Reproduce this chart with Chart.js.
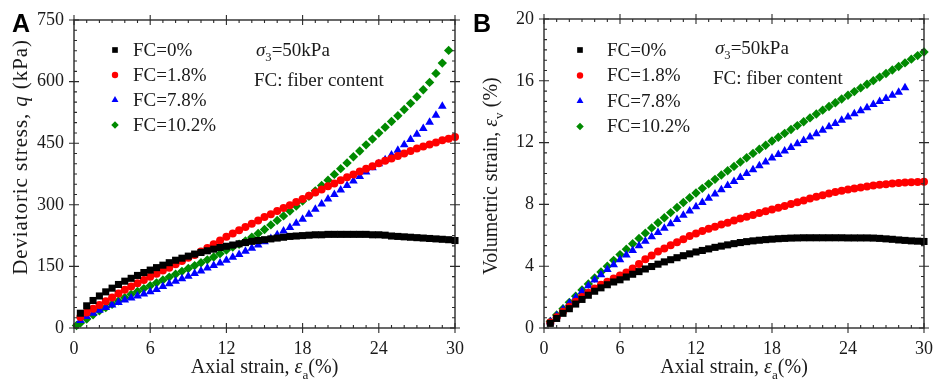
<!DOCTYPE html>
<html>
<head>
<meta charset="utf-8">
<style>
body { margin: 0; background: #fff; }
.panel { position: absolute; top: 0; width: 469px; height: 383px; }
</style>
</head>
<body>
<div class="panel" style="left:0"><canvas id="chartA" width="469" height="383"></canvas></div>
<div class="panel" style="left:469px"><canvas id="chartB" width="469" height="383"></canvas></div>

<script src="https://cdn.jsdelivr.net/npm/chart.js"></script>
<script>
// axial strain (%) at each reading
var strain = [0.5,1,1.5,2,2.5,3,3.5,4,4.5,5,5.5,6,6.5,7,7.5,8,8.5,9,9.5,10,
  10.5,11,11.5,12,12.5,13,13.5,14,14.5,15,15.5,16,16.5,17,17.5,18,18.5,19,19.5,20,
  20.5,21,21.5,22,22.5,23,23.5,24,24.5,25,25.5,26,26.5,27,27.5,28,28.5,29,29.5,30];
var strainG = [0.2,0.5,1,1.5,2,2.5,3,3.5,4,4.5,5,5.5,6,6.5,7,7.5,8,8.5,9,9.5,
  10,10.5,11,11.5,12,12.5,13,13.5,14,14.5,15,15.5,16,16.5,17,17.5,18,18.5,19,19.5,
  20,20.5,21,21.5,22,22.5,23,23.5,24,24.5,25,25.5,26,26.5,27,27.5,28,28.5,29,29.5];

var labelsFC = ["FC=0%", "FC=1.8%", "FC=7.8%", "FC=10.2%"];

// deviatoric stress q (kPa)
var qFC0 = [36,54,67,78,88,97,106,114,121,128,135,141,147,153,159,165,170,175,180,184,
  188,192,196,199,202,205,208,211,213,215,217,219,221,223,224,225,226,227,227,228,
  228,228,228,228,228,228,227,227,226,224,223,222,221,220,219,218,217,216,215,213];
var qFC18 = [27,38,47,56,65,74,84,93,101,109,117,125,132,140,147,155,163,171,178,186,
  195,204,213,222,230,238,246,254,262,270,277,285,292,299,307,314,322,330,337,345,
  352,360,367,374,381,388,394,401,407,413,419,425,431,437,442,447,452,457,461,465];
var qFC78 = [18,28,36,43,50,56,62,68,73,78,83,88,94,101,108,114,120,126,133,139,
  146,152,158,165,172,179,187,194,202,210,218,227,236,245,255,265,277,289,302,314,
  325,336,347,358,369,380,390,400,410,421,433,446,459,472,486,501,518,540];
var qFC102 = [6,12,22,32,42,50,58,66,74,82,89,96,103,110,117,124,131,138,145,152,
  159,166,173,181,190,197,204,212,221,230,240,251,262,273,285,297,309,321,334,347,
  360,374,388,402,417,431,446,460,475,489,503,517,532,547,563,580,598,620,645,676];

// volumetric strain (%)
var evFC0 = [0.3,0.62,0.95,1.25,1.55,1.85,2.12,2.38,2.6,2.8,2.98,3.12,3.3,3.48,3.65,3.82,3.98,4.13,4.28,4.42,
  4.55,4.68,4.8,4.92,5.02,5.12,5.22,5.3,5.38,5.46,5.53,5.59,5.64,5.68,5.72,5.75,5.78,5.8,5.82,5.83,
  5.84,5.84,5.84,5.84,5.84,5.84,5.84,5.83,5.83,5.83,5.83,5.82,5.8,5.77,5.74,5.7,5.67,5.64,5.62,5.6];
var evFC18 = [0.35,0.7,1.05,1.38,1.7,2.0,2.28,2.55,2.8,3.0,3.2,3.4,3.6,3.85,4.15,4.45,4.7,4.95,5.15,5.35,
  5.55,5.75,5.95,6.12,6.28,6.42,6.55,6.7,6.82,6.95,7.08,7.2,7.32,7.45,7.55,7.67,7.78,7.9,8.02,8.14,
  8.26,8.38,8.5,8.6,8.7,8.8,8.88,8.96,9.03,9.1,9.16,9.22,9.27,9.31,9.35,9.38,9.41,9.43,9.45,9.47];
var evFC78 = [0.4,0.8,1.2,1.6,1.98,2.36,2.73,3.1,3.45,3.78,4.1,4.42,4.72,5.02,5.32,5.62,5.9,6.18,6.46,6.74,
  7.02,7.3,7.57,7.84,8.12,8.4,8.68,8.95,9.22,9.48,9.74,10.0,10.25,10.5,10.75,11.0,11.23,11.46,11.69,11.92,
  12.14,12.36,12.58,12.8,13.02,13.23,13.44,13.65,13.86,14.06,14.26,14.46,14.66,14.86,15.06,15.26,15.55];
var evFC102 = [0.42,0.84,1.25,1.66,2.06,2.46,2.85,3.24,3.62,4.0,4.38,4.75,5.1,5.45,5.8,6.14,6.48,6.81,7.14,7.47,
  7.8,8.12,8.43,8.74,9.04,9.33,9.62,9.9,10.18,10.46,10.74,11.02,11.3,11.57,11.83,12.1,12.35,12.6,12.85,13.1,
  13.35,13.6,13.85,14.1,14.34,14.58,14.82,15.06,15.3,15.54,15.78,16.01,16.24,16.47,16.7,16.93,17.16,17.4,17.63,17.86];

var SERIF = "'Liberation Serif', 'Times New Roman', serif";
var INK = "#1a1a1a";
var FRAME = "#2a2a2a";
var styles = [
  { color: "#000000", shape: "rect", r: 5 },
  { color: "#ff0000", shape: "circle", r: 4 },
  { color: "#0000ff", shape: "triangle", r: 5 },
  { color: "#008a00", shape: "rectRot", r: 4.7 }
];

function pairs(xs, ys) {
  var out = [];
  for (var i = 0; i < ys.length; i++) out.push({ x: xs[i], y: ys[i] });
  return out;
}

function makeSets(series, xsets) {
  return series.map(function(ys, i){
    var s = styles[i];
    return {
      label: labelsFC[i],
      data: pairs(xsets[i], ys),
      pointStyle: s.shape,
      pointRadius: s.r,
      pointBackgroundColor: s.color,
      pointBorderWidth: 0,
      showLine: false,
      clip: false
    };
  });
}

// text made of plain, italic and subscript runs
function richWidth(ctx, parts, size) {
  var w = 0;
  parts.forEach(function(p){
    var sz = p[1] == "sub" ? size * 0.66 : size;
    ctx.font = (p[1] == "i" ? "italic " : "") + sz + "px " + SERIF;
    w += ctx.measureText(p[0]).width;
  });
  return w;
}
function richText(ctx, parts, x, y, size, align) {
  var w = richWidth(ctx, parts, size);
  if (align == "center") x -= w / 2;
  ctx.textAlign = "left";
  ctx.textBaseline = "alphabetic";
  parts.forEach(function(p){
    var sz = p[1] == "sub" ? size * 0.66 : size;
    ctx.font = (p[1] == "i" ? "italic " : "") + sz + "px " + SERIF;
    var dy = p[1] == "sub" ? size * 0.28 : 0;
    ctx.fillText(p[0], x, y + dy);
    x += ctx.measureText(p[0]).width;
  });
}

function decor(cfg) {
  return {
    id: "decor",
    afterDraw: function(chart) {
      var ctx = chart.ctx, a = chart.chartArea;
      var xs = chart.scales.x, ys = chart.scales.y;
      ctx.save();
      // frame
      ctx.strokeStyle = FRAME;
      ctx.lineWidth = 1.4;
      ctx.strokeRect(a.left, a.top, a.right - a.left, a.bottom - a.top);
      // ticks on all four sides, majors cross the frame, minors point in
      ctx.lineWidth = 1.1;
      ctx.beginPath();
      var n = Math.round((xs.max - xs.min) / cfg.xMinor);
      for (var i = 0; i <= n; i++) {
        var v = xs.min + i * cfg.xMinor;
        var px = xs.getPixelForValue(v);
        var major = i % cfg.xEvery == 0;
        var inL = major ? 5 : 3, outL = major ? 5 : 0;
        ctx.moveTo(px, a.bottom + outL); ctx.lineTo(px, a.bottom - inL);
        ctx.moveTo(px, a.top - outL); ctx.lineTo(px, a.top + inL);
      }
      n = Math.round((ys.max - ys.min) / cfg.yMinor);
      for (var j = 0; j <= n; j++) {
        var vy = ys.min + j * cfg.yMinor;
        var py = ys.getPixelForValue(vy);
        var majorY = j % cfg.yEvery == 0;
        var inY = majorY ? 5 : 3, outY = majorY ? 5 : 0;
        ctx.moveTo(a.left - outY, py); ctx.lineTo(a.left + inY, py);
        ctx.moveTo(a.right + outY, py); ctx.lineTo(a.right - inY, py);
      }
      ctx.stroke();

      ctx.fillStyle = INK;
      // axis titles
      richText(ctx, [["Axial strain, ", ""], ["\u03b5", "i"], ["a", "sub"], ["(%)", ""]],
        (a.left + a.right) / 2, 373, 20, "center");
      ctx.save();
      ctx.translate(cfg.yTitleX, cfg.yTitleY);
      ctx.rotate(-Math.PI / 2);
      ctx.letterSpacing = cfg.yTitleSpacing;
      richText(ctx, cfg.yTitle, 0, 0, cfg.yTitleSize, "center");
      ctx.restore();

      // panel letter
      ctx.font = "bold 25px 'Liberation Sans', Arial, sans-serif";
      ctx.fillStyle = "#000";
      ctx.textAlign = "left";
      ctx.textBaseline = "alphabetic";
      ctx.fillText(cfg.letter, cfg.letterX, 32);

      // legend
      chart.data.datasets.forEach(function(ds, k){
        var y = cfg.legY + k * cfg.legGap;
        ctx.fillStyle = styles[k].color;
        Chart.helpers.drawPoint(ctx, { pointStyle: styles[k].shape, radius: styles[k].r * 0.8, rotation: 0, borderWidth: 0 },
          cfg.legMarkX, y);
        ctx.fillStyle = INK;
        ctx.font = "19px " + SERIF;
        ctx.textAlign = "left";
        ctx.textBaseline = "middle";
        ctx.fillText(ds.label, cfg.legTextX, y + 1);
      });

      // test condition note
      richText(ctx, [["\u03c3", "i"], ["3", "sub"], ["=50kPa", ""]], cfg.noteX, cfg.noteY, 19, "left");
      ctx.font = "19px " + SERIF;
      ctx.fillText("FC: fiber content", cfg.noteX - 2, cfg.noteY + 30);
      ctx.restore();
    }
  };
}

function makeChart(id, sets, yMax, yStep, pad, yWidth, cfg) {
  return new Chart(document.getElementById(id), {
    type: "scatter",
    data: { datasets: sets },
    options: {
      responsive: false,
      animation: false,
      events: [],
      layout: { padding: pad },
      plugins: { legend: { display: false }, tooltip: { enabled: false } },
      scales: {
        x: {
          type: "linear", min: 0, max: 30,
          ticks: { stepSize: 6, padding: 5, color: INK, font: { family: SERIF, size: 18 } },
          grid: { display: false, drawTicks: true, tickLength: 5 },
          border: { display: false },
          afterFit: function(s){ s.height = 55; }
        },
        y: {
          type: "linear", min: 0, max: yMax,
          ticks: { stepSize: yStep, padding: 5, color: INK, font: { family: SERIF, size: 18 } },
          grid: { display: false, drawTicks: true, tickLength: 5 },
          border: { display: false },
          afterFit: function(s){ s.width = yWidth; }
        }
      }
    },
    plugins: [decor(cfg)]
  });
}

makeChart("chartA",
  makeSets([qFC0, qFC18, qFC78, qFC102], [strain, strain, strain, strainG]),
  750, 150, { top: 20, right: 11, left: 0, bottom: 0 }, 74,
  { xMinor: 1, xEvery: 6, yMinor: 25, yEvery: 6, letter: "A", letterX: 12,
    yTitle: [["Deviatoric stress, ", ""], ["q", "i"], [" (kPa)", ""]], yTitleSize: 21, yTitleSpacing: "0.9px",
    yTitleX: 27, yTitleY: 157,
    legY: 50, legGap: 25, legMarkX: 115, legTextX: 133, noteX: 256, noteY: 56 });

makeChart("chartB",
  makeSets([evFC0, evFC18, evFC78, evFC102], [strain, strain, strain, strain]),
  20, 4, { top: 19, right: 10, left: 0, bottom: 0 }, 75,
  { xMinor: 1, xEvery: 6, yMinor: 4 / 6, yEvery: 6, letter: "B", letterX: 4,
    yTitle: [["Volumetric strain, ", ""], ["\u03b5", "i"], ["v", "sub"], [" (%)", ""]], yTitleSize: 20, yTitleSpacing: "0px",
    yTitleX: 28, yTitleY: 176,
    legY: 50, legGap: 25.5, legMarkX: 111, legTextX: 138, noteX: 246, noteY: 54 });
</script>
